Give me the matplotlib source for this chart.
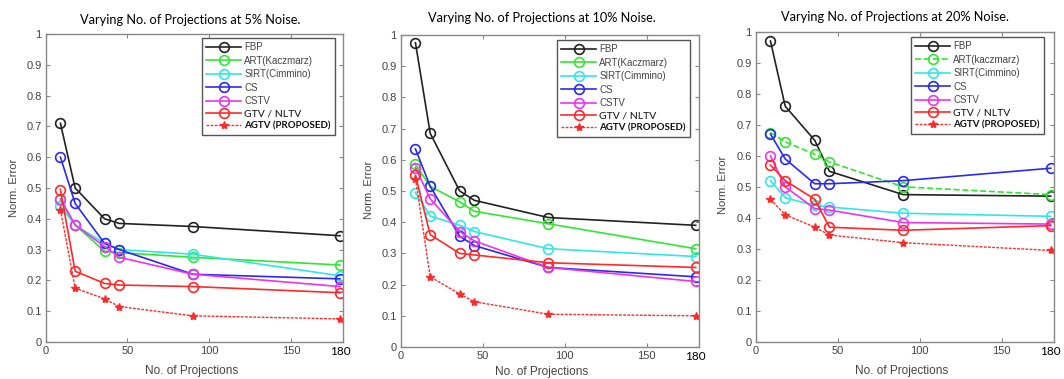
import matplotlib.pyplot as plt
from matplotlib.font_manager import FontProperties

# number of projections (same for every panel)
projections = [9, 18, 36, 45, 90, 180]

methods = ['FBP', 'ART(Kaczmarz)', 'SIRT(Cimmino)', 'CS', 'CSTV', 'GTV / NLTV', 'AGTV (PROPOSED)']
methods_20 = ['FBP', 'ART(kaczmarz)', 'SIRT(Cimmino)', 'CS', 'CSTV', 'GTV / NLTV', 'AGTV (PROPOSED)']

# 5% noise
fbp_5 = [0.71, 0.50, 0.40, 0.385, 0.375, 0.345]
art_5 = [0.46, 0.38, 0.295, 0.29, 0.275, 0.25]
sirt_5 = [0.44, 0.38, 0.32, 0.30, 0.285, 0.215]
cs_5 = [0.60, 0.45, 0.32, 0.30, 0.22, 0.205]
cstv_5 = [0.465, 0.38, 0.31, 0.275, 0.22, 0.18]
gtv_5 = [0.495, 0.23, 0.19, 0.185, 0.18, 0.16]
agtv_5 = [0.43, 0.175, 0.14, 0.115, 0.085, 0.075]

# 10% noise
fbp_10 = [0.975, 0.685, 0.50, 0.47, 0.415, 0.39]
art_10 = [0.585, 0.515, 0.465, 0.435, 0.395, 0.315]
sirt_10 = [0.495, 0.42, 0.39, 0.37, 0.315, 0.29]
cs_10 = [0.635, 0.515, 0.355, 0.325, 0.255, 0.225]
cstv_10 = [0.575, 0.475, 0.37, 0.34, 0.255, 0.21]
gtv_10 = [0.55, 0.36, 0.30, 0.295, 0.27, 0.255]
agtv_10 = [0.54, 0.225, 0.17, 0.145, 0.105, 0.10]

# 20% noise
fbp_20 = [0.97, 0.76, 0.65, 0.55, 0.475, 0.47]
art_20 = [0.675, 0.645, 0.605, 0.58, 0.50, 0.475]
sirt_20 = [0.52, 0.465, 0.44, 0.435, 0.415, 0.405]
cs_20 = [0.67, 0.59, 0.51, 0.51, 0.52, 0.56]
cstv_20 = [0.60, 0.50, 0.43, 0.425, 0.385, 0.38]
gtv_20 = [0.57, 0.52, 0.46, 0.37, 0.36, 0.375]
agtv_20 = [0.46, 0.41, 0.37, 0.345, 0.32, 0.295]

titles = ['Varying No. of Projections at 5% Noise.',
          'Varying No. of Projections at 10% Noise.',
          'Varying No. of Projections at 20% Noise.']

colors = ['#222222', '#33e633', '#33e6e6', '#2a2aee', '#ee33ee', '#ff2a2a', '#ff2a2a']

W, H = 1064, 379

# pixel boxes: left, x-pixel of 180, y-pixel of 1, y-pixel of 0
boxes = [(45.7, 340.0, 34.0, 342.0),
         (400.7, 695.7, 35.0, 347.0),
         (755.7, 1050.7, 31.7, 342.0)]
legend_boxes = [(335, 38), (690, 40), (1044, 37)]
title_pos = [(190, 20), (542, 18), (895, 17)]
ylabel_pos = [(14, 188), (369, 190), (723, 185)]
xlabel_pos = [(192, 371), (542, 372), (902, 371)]

calibri = 'Lato'
gray = '#444444'

fig = plt.figure(figsize=(W / 100, H / 100), dpi=100)

panels = [
    [fbp_5, art_5, sirt_5, cs_5, cstv_5, gtv_5, agtv_5],
    [fbp_10, art_10, sirt_10, cs_10, cstv_10, gtv_10, agtv_10],
    [fbp_20, art_20, sirt_20, cs_20, cstv_20, gtv_20, agtv_20],
]

for p, series in enumerate(panels):
    left, x180, ytop, ybot = boxes[p]
    ppu = (x180 - left) / 180.0
    xmax = 182
    ax = fig.add_axes([left / W, (H - ybot) / H, ppu * xmax / W, (ybot - ytop) / H])
    names = methods_20 if p == 2 else methods

    for i, vals in enumerate(series):
        if i == 6:
            ax.plot(projections, vals, color=colors[i], linestyle=(0, (2, 1)), lw=1.0,
                    marker='*', markersize=6, label=names[i])
        else:
            ls = '--' if (p == 2 and i == 1) else '-'
            ax.plot(projections, vals, color=colors[i], linestyle=ls, lw=1.2,
                    marker='o', markersize=7, markerfacecolor='none',
                    markeredgewidth=1.2, label=names[i])

    ax.set_xlim(0, xmax)
    ax.set_ylim(0, 1)
    ax.set_xticks([0, 50, 100, 150])
    ax.set_xticklabels(['0', '50', '100', '150'])
    ax.set_yticks([i / 10 for i in range(11)])
    ax.set_yticklabels(['0', '0.1', '0.2', '0.3', '0.4', '0.5', '0.6', '0.7', '0.8', '0.9', '1'])
    ax.tick_params(direction='in', length=3, width=0.8, colors='#888888',
                   labelcolor=gray, labelsize=8, top=True, right=True, pad=3)
    for lab in ax.get_xticklabels() + ax.get_yticklabels():
        lab.set_fontfamily('Liberation Sans')
    for s in ax.spines.values():
        s.set_color('#888888')
        s.set_linewidth(1.0)

    ax.text(180, -0.012, '180', transform=ax.get_xaxis_transform(), ha='center', va='top',
            fontsize=8.5, family=calibri, color='black')

    lx, ly = legend_boxes[p]
    leg = ax.legend(loc='upper right',
                    bbox_to_anchor=((lx - left) / (ppu * xmax), (ybot - ly) / (ybot - ytop)),
                    prop={'family': 'Liberation Sans', 'size': 7},
                    handlelength=3.6, handletextpad=0.3, labelspacing=0.35,
                    borderpad=0.45, borderaxespad=0, fancybox=False, framealpha=1)
    leg.get_frame().set_edgecolor('#555555')
    leg.get_frame().set_linewidth(1.0)
    texts = leg.get_texts()
    for t in texts[:5]:
        t.set_color(gray)
    texts[5].set_fontproperties(FontProperties(family=calibri, size=7.5))
    texts[5].set_color('#111111')
    texts[6].set_fontproperties(FontProperties(family=calibri, size=7, weight='bold'))
    texts[6].set_color('#111111')

    tx, ty = title_pos[p]
    fig.text(tx / W, 1 - ty / H, titles[p], ha='center', va='center', fontsize=9.2,
             family=calibri, color='black')
    yx, yy = ylabel_pos[p]
    fig.text(yx / W, 1 - yy / H, 'Norm. Error', ha='center', va='center', rotation=90,
             fontsize=8, family='Liberation Sans', color=gray)
    xx, xy = xlabel_pos[p]
    fig.text(xx / W, 1 - xy / H, 'No. of Projections', ha='center', va='center',
             fontsize=8.5, family='Liberation Sans', color=gray)

fig.savefig('out.png', dpi=100)
